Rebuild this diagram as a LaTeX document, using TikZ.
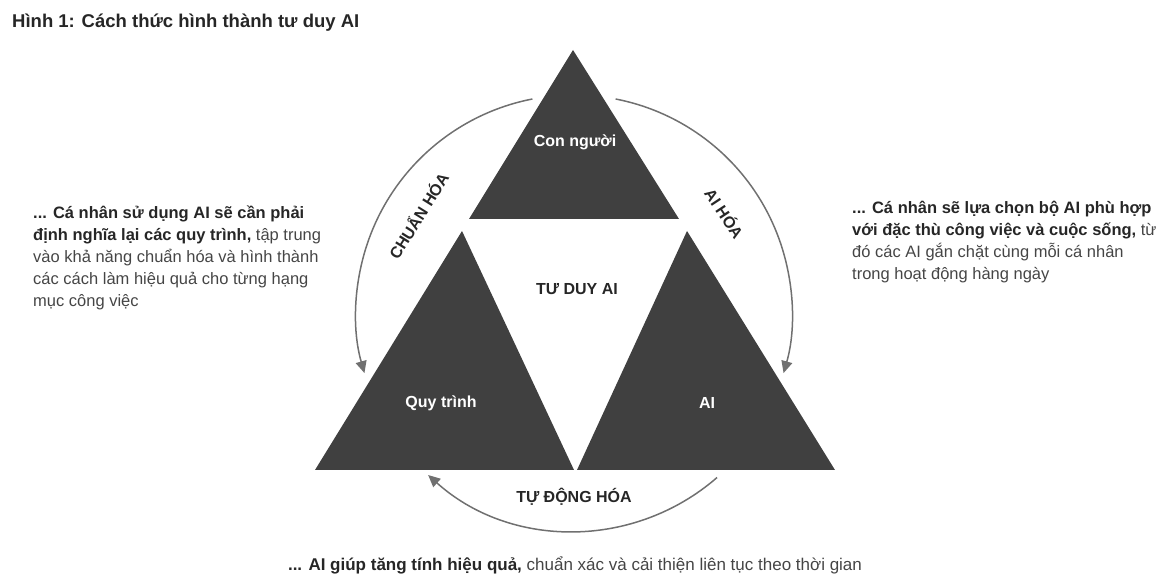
\documentclass[tikz,border=0pt]{standalone}
\usepackage{fontspec}
\setmainfont{Liberation Sans}
\usetikzlibrary{arrows.meta,positioning,calc}
\definecolor{tri}{HTML}{404040}
\definecolor{arcgray}{HTML}{707070}
\definecolor{bodygray}{HTML}{454545}
\tikzset{%
  piece/.style={fill=tri, draw=none},
  arrow/.style={-{Triangle[length=12pt,width=11pt]}, draw=arcgray, line width=1.5pt}%
}

\begin{document}
\begin{tikzpicture}[
    x=1pt,
    y=1pt,
    inlabel/.style={
        text=white,
        font=\fontsize{16}{19}\selectfont\bfseries
    },
    arclabel/.style={
        text=black!85,
        font=\fontsize{16}{19}\selectfont\bfseries
    },
    note/.style={
        align=left,
        inner sep=0pt,
        text=bodygray,
        font=\fontsize{16.5}{22}\selectfont
    }
]
\useasboundingbox (0,0) rectangle (1162,583);

% Title
\node[anchor=west, inner sep=0pt, text=black!85, font=\fontsize{18.5}{22}\selectfont\bfseries] (title) at (12,560) {Hình 1: Cách thức hình thành tư duy AI};

% Three triangles
\coordinate (ctr) at (574,270);
\fill[piece] (573,533) -- (469,364) -- (679,364) -- cycle;
\fill[piece] (315,113) -- (574,113) -- (462,352) -- cycle;
\fill[piece] (577,113) -- (835,113) -- (687,352) -- cycle;

\node[inlabel] (human) at (575,441) {Con người};
\node[inlabel] (process) at (441,180) {Quy trình};
\node[inlabel] (ai) at (707,180) {AI};
\node[arclabel] (mind) at (577,294) {TƯ DUY AI};

% Arcs round the triangles
\draw[arrow] ($(ctr)+(101:218)$) arc[start angle=101, end angle=196, radius=218];
\draw[arrow] ($(ctr)+(79:218)$) arc[start angle=79, end angle=-16, radius=218];
\draw[arrow] ($(ctr)+(-49:218)$) arc[start angle=-49, end angle=-132, radius=218];

\node[arclabel, rotate=58] (standard) at ($(ctr)+(148:184)$) {CHUẨN HÓA};
\node[arclabel, rotate=-56.5] (aify) at ($(ctr)+(33.5:181)$) {AI HÓA};
\node[arclabel] (auto) at (574,86) {TỰ ĐỘNG HÓA};

% Side notes
\node[note, anchor=north west] (leftnote) at (33,377) {%
  \textbf{\color{black!85}... Cá nhân sử dụng AI sẽ cần phải}\\
  \textbf{\color{black!85}định nghĩa lại các quy trình,} tập trung\\
  vào khả năng chuẩn hóa và hình thành\\
  các cách làm hiệu quả cho từng hạng\\
  mục công việc};
\node[note, anchor=north west] (rightnote) at (852,382) {%
  \textbf{\color{black!85}... Cá nhân sẽ lựa chọn bộ AI phù hợp}\\
  \textbf{\color{black!85}với đặc thù công việc và cuộc sống,} từ\\
  đó các AI gắn chặt cùng mỗi cá nhân\\
  trong hoạt động hàng ngày};
\node[note, anchor=base, font=\fontsize{17}{22}\selectfont] (bottomnote) at (575,12) {%
  \textbf{\color{black!85}... AI giúp tăng tính hiệu quả,} chuẩn xác và cải thiện liên tục theo thời gian};

\end{tikzpicture}
\end{document}
